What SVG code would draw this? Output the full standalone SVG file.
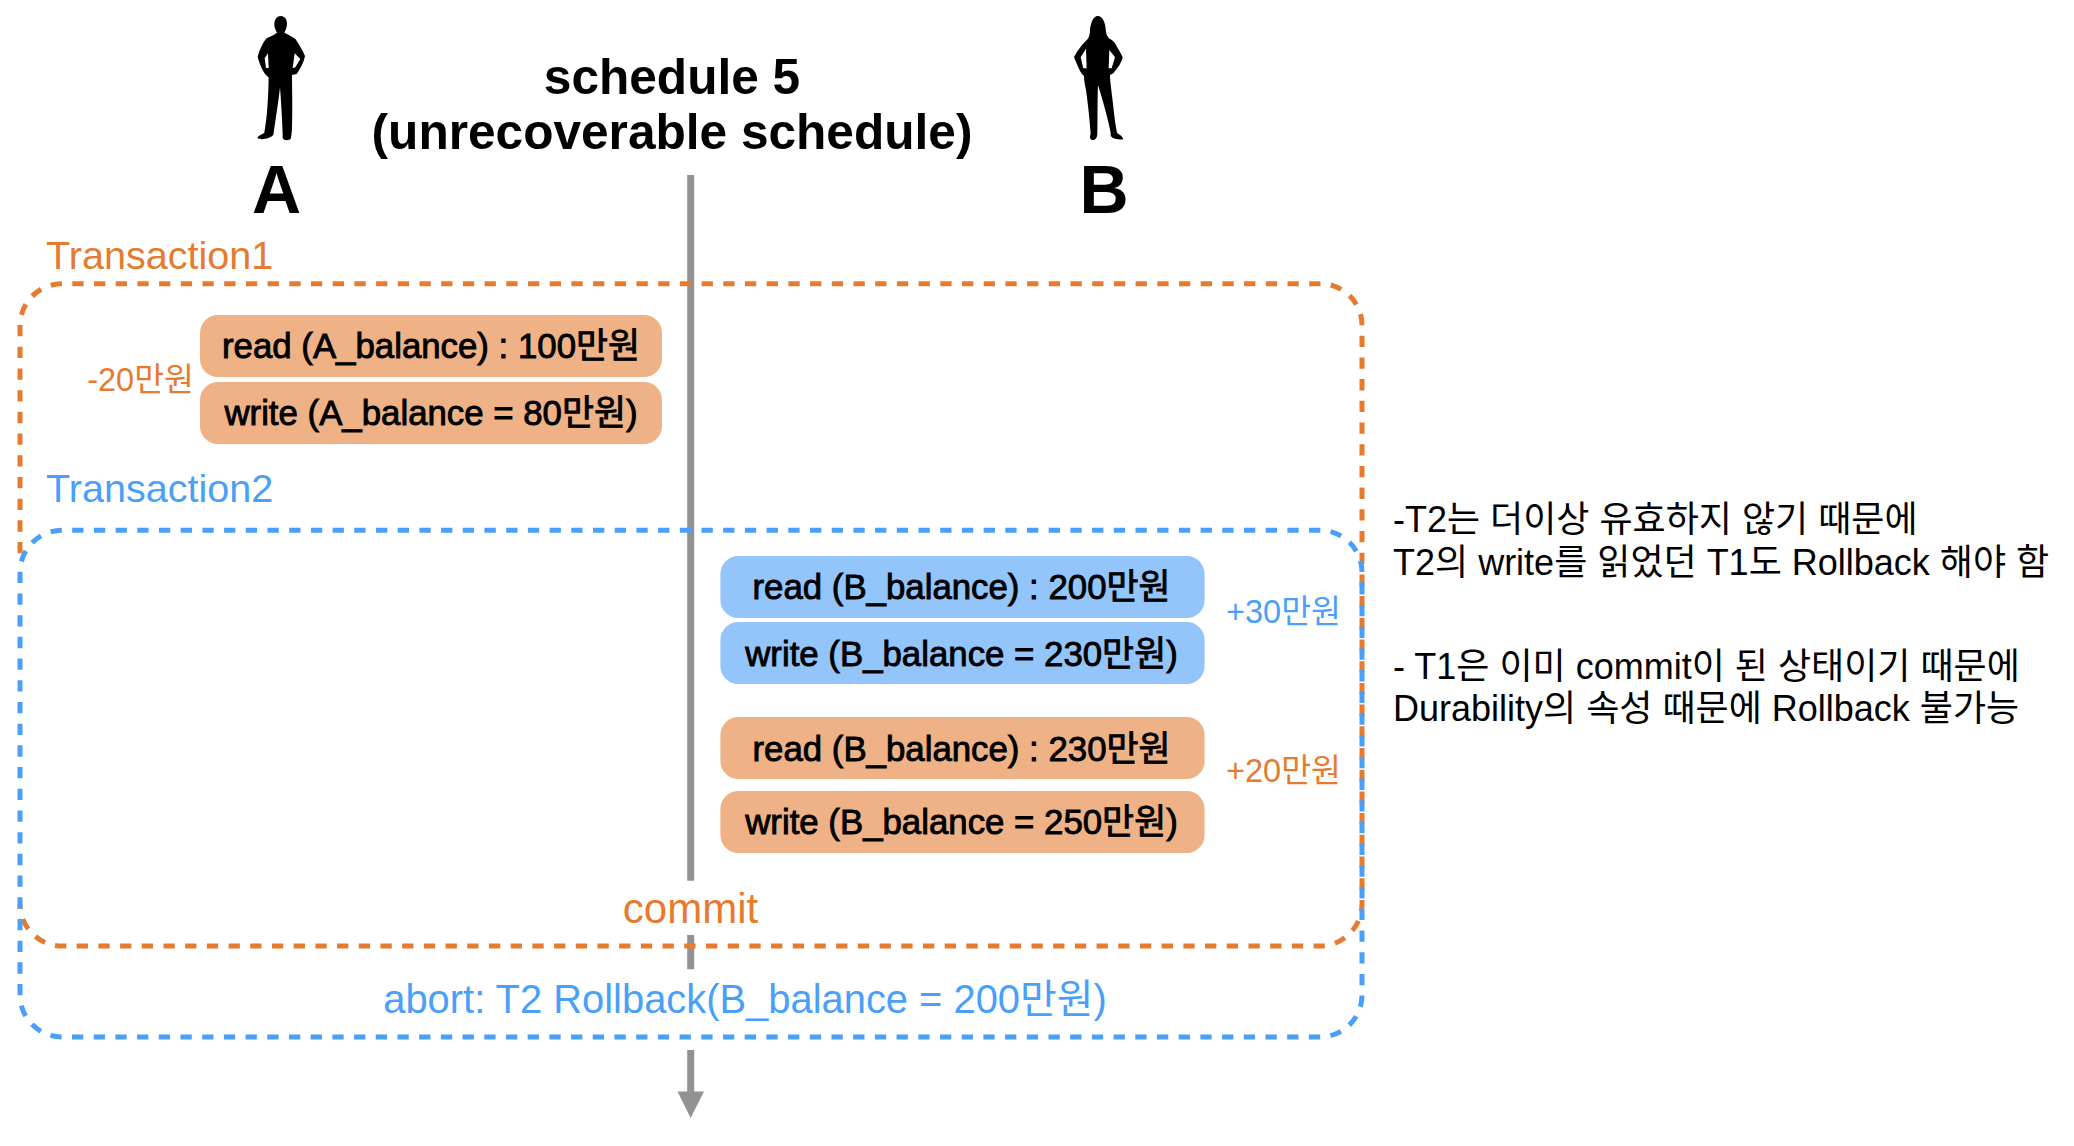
<svg xmlns="http://www.w3.org/2000/svg" width="2074" height="1146" viewBox="0 0 2074 1146">
<style>
text{font-family:"Liberation Sans","Noto Sans CJK KR",sans-serif}
.pill{font-size:34.800px;text-anchor:middle;stroke:#000;stroke-width:.9;fill:#000}
.o{fill:#E67B30}.b{fill:#4A9FF8}
.lab{font-size:39.600px}
.sm{font-size:32.500px;text-anchor:end}
.note{font-size:36px;fill:#000}
.tl{font-size:49.600px;font-weight:bold;text-anchor:middle;fill:#000}
.big{font-size:68px;font-weight:bold;text-anchor:middle;fill:#000}
.dash{fill:none;stroke-width:5;stroke-dasharray:11.3 10.4}
.po{fill:#EEB286}.pb{fill:#93C5FA}
</style>
<rect width="2074" height="1146" fill="#fff"/>
<g id="connectors">
<path d="M690.7 175V880.7M690.7 935V969.3M690.7 1050V1095" stroke="#929292" stroke-width="7" fill="none"/>
<path d="M677.5 1091.5H704L690.7 1118Z" fill="#929292"/>
</g>
<g id="person-a">
<path fill="#000" fill-rule="evenodd" transform="translate(230 0) scale(.3333)" d="M152 48C165 48 172 60 171 73C170 85 166 92 163 98C175 104 190 112 197 118C208 135 218 152 225 168C222 185 212 205 200 222L186 225C186 260 188 320 186 380C186 395 184 410 182 417C175 422 162 422 158 415L158 405C157 360 153 300 150 262C146 300 138 350 130 405C120 415 95 422 82 414C85 405 98 403 103 398C112 350 115 290 116 232C105 225 92 205 83 170C88 150 98 130 108 116C118 110 132 106 141 98C136 90 133 82 133 73C133 60 140 48 152 48ZM104 175L114 160L116 205L108 203ZM194 160L211 177L196 202L188 205Z"/>
<text class="big" x="276.500" y="213">A</text>
</g>
<g id="person-b">
<path fill="#000" fill-rule="evenodd" transform="translate(1060 0) scale(.3333)" d="M113 48C128 48 136 68 137 88C138 100 140 108 148 116C158 120 163 125 168 135C175 148 183 160 188 172C184 190 172 205 160 220L150 225C150 245 155 275 160 320C164 360 168 385 172 400C180 404 188 410 190 418C178 420 160 418 152 408L152 398C145 360 128 300 114 255C112 300 113 360 112 400C112 415 105 422 96 420C90 418 88 412 92 402C90 370 85 320 78 270C74 250 72 240 72 228C62 222 52 195 42 172C50 155 65 135 75 125C85 118 90 108 90 90C92 68 100 48 113 48ZM62 172L78 146L80 205L70 205ZM165 172L148 150L146 205L155 205Z"/>
<text class="big" x="1104" y="213">B</text>
</g>
<text id="title" class="tl"><tspan x="672" y="94">schedule 5</tspan><tspan x="672" y="149">(unrecoverable schedule)</tspan></text>
<g id="t1-box">
<path class="dash" stroke="#E67B30" d="M1362 335.700V904A42 42 0 0 1 1320 946H62A42 42 0 0 1 20 904"/>
<path class="dash" stroke="#E67B30" d="M1362 325.300A41.700 41.700 0 0 0 1320 283.700H62A42 42 0 0 0 20 326V555"/>
</g>
<g id="t2-box">
<path class="dash" stroke="#4A9FF8" d="M1362 583.300V995A42 42 0 0 1 1320 1037H62A42 42 0 0 1 20 995V572A42 42 0 0 1 62 530.300H1320A42 42 0 0 1 1362 572V583.300"/>
</g>
<text id="t1-label" class="lab o" x="46" y="268.500">Transaction1</text>
<text id="t2-label" class="lab b" x="46" y="502">Transaction2</text>
<g id="n1"><rect class="po" x="200" y="315" width="462" height="62" rx="18"/><text class="pill" x="431" y="358">read (A_balance) : 100만원</text></g>
<g id="n2"><rect class="po" x="200" y="382" width="462" height="62" rx="18"/><text class="pill" x="431" y="425">write (A_balance = 80만원)</text></g>
<g id="n3"><rect class="pb" x="720.400" y="556" width="484.200" height="62" rx="18"/><text class="pill" x="961.500" y="599">read (B_balance) : 200만원</text></g>
<g id="n4"><rect class="pb" x="720.400" y="622" width="484.200" height="62" rx="18"/><text class="pill" x="961.500" y="666">write (B_balance = 230만원)</text></g>
<g id="n5"><rect class="po" x="720.400" y="717" width="484.200" height="62" rx="18"/><text class="pill" x="961.500" y="761">read (B_balance) : 230만원</text></g>
<g id="n6"><rect class="po" x="720.400" y="791" width="484.200" height="62" rx="18"/><text class="pill" x="961.500" y="834">write (B_balance = 250만원)</text></g>
<text class="sm o" x="194" y="391">-20만원</text>
<text class="sm b" x="1341" y="622.500">+30만원</text>
<text class="sm o" x="1341" y="782">+20만원</text>
<text id="commit" class="o" font-size="42" x="690.500" y="923" text-anchor="middle">commit</text>
<text id="abort" class="b" font-size="39.900" x="745" y="1013" text-anchor="middle">abort: T2 Rollback(B_balance = 200만원)</text>
<g id="notes">
<text class="note" x="1393" y="532">-T2는 더이상 유효하지 않기 때문에</text>
<text class="note" x="1393" y="575">T2의 write를 읽었던 T1도 Rollback 해야 함</text>
<text class="note" x="1393" y="678.500">- T1은 이미 commit이 된 상태이기 때문에</text>
<text class="note" x="1393" y="720.500">Durability의 속성 때문에 Rollback 불가능</text>
</g>
</svg>
